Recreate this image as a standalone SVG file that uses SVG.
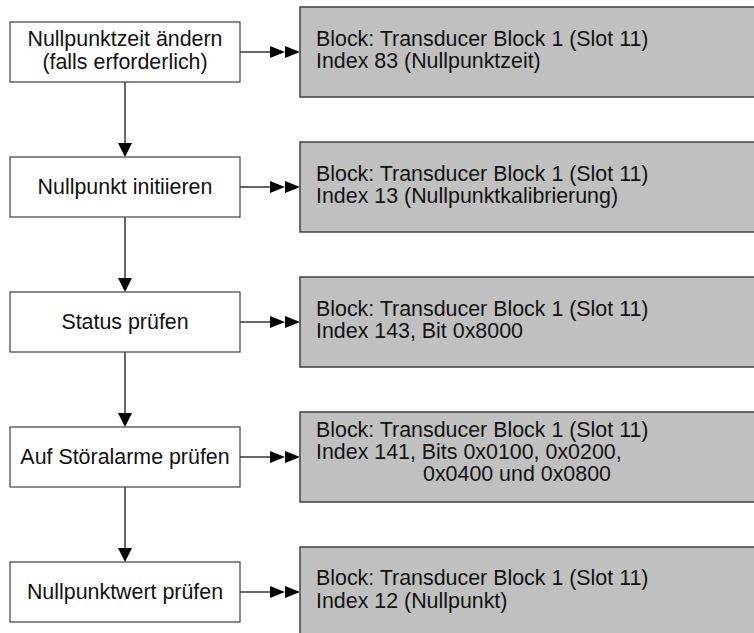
<svg xmlns="http://www.w3.org/2000/svg" width="754" height="633" viewBox="0 0 754 633">
<style>
.step{fill:#ffffff;stroke:#404040;stroke-width:1.2}
.info{fill:#c0c0c0;stroke:#404040;stroke-width:1.5}
text{font-family:"Liberation Sans",Arial,sans-serif;font-size:21.4px;fill:#111}
.c{text-anchor:middle}
.line{stroke:#000;stroke-width:1.2;fill:none}
.head{fill:#000;stroke:none}
</style>
<rect width="754" height="633" fill="#fff"/>
<g id="connectors">
<line class="line" x1="125" y1="82" x2="125" y2="144"/>
<polygon class="head" points="118,143 132,143 125,157"/>
<line class="line" x1="125" y1="217" x2="125" y2="279"/>
<polygon class="head" points="118,278 132,278 125,292"/>
<line class="line" x1="125" y1="352" x2="125" y2="414"/>
<polygon class="head" points="118,413 132,413 125,427"/>
<line class="line" x1="125" y1="487" x2="125" y2="549"/>
<polygon class="head" points="118,548 132,548 125,562"/>
<line class="line" x1="240" y1="52" x2="272" y2="52"/>
<polygon class="head" points="270,46 285,52 270,58"/>
<polygon class="head" points="285,46 300,52 285,58"/>
<line class="line" x1="240" y1="187" x2="272" y2="187"/>
<polygon class="head" points="270,181 285,187 270,193"/>
<polygon class="head" points="285,181 300,187 285,193"/>
<line class="line" x1="240" y1="322" x2="272" y2="322"/>
<polygon class="head" points="270,316 285,322 270,328"/>
<polygon class="head" points="285,316 300,322 285,328"/>
<line class="line" x1="240" y1="457" x2="272" y2="457"/>
<polygon class="head" points="270,451 285,457 270,463"/>
<polygon class="head" points="285,451 300,457 285,463"/>
<line class="line" x1="240" y1="592" x2="272" y2="592"/>
<polygon class="head" points="270,586 285,592 270,598"/>
<polygon class="head" points="285,586 300,592 285,598"/>
</g>
<g id="step1">
<rect class="step" x="10" y="22" width="230" height="60"/>
<text class="c" x="125" y="46">Nullpunktzeit ändern</text>
<text class="c" x="125" y="69">(falls erforderlich)</text>
</g>
<g id="info1">
<rect class="info" x="300" y="7" width="470" height="90"/>
<text x="316" y="46">Block: Transducer Block 1 (Slot 11)</text>
<text x="316" y="68">Index 83 (Nullpunktzeit)</text>
</g>
<g id="step2">
<rect class="step" x="10" y="157" width="230" height="60"/>
<text class="c" x="125" y="194">Nullpunkt initiieren</text>
</g>
<g id="info2">
<rect class="info" x="300" y="142" width="470" height="90"/>
<text x="316" y="181">Block: Transducer Block 1 (Slot 11)</text>
<text x="316" y="203">Index 13 (Nullpunktkalibrierung)</text>
</g>
<g id="step3">
<rect class="step" x="10" y="292" width="230" height="60"/>
<text class="c" x="125" y="329">Status prüfen</text>
</g>
<g id="info3">
<rect class="info" x="300" y="277" width="470" height="90"/>
<text x="316" y="316">Block: Transducer Block 1 (Slot 11)</text>
<text x="316" y="338">Index 143, Bit 0x8000</text>
</g>
<g id="step4">
<rect class="step" x="10" y="427" width="230" height="60"/>
<text class="c" x="125" y="464">Auf Störalarme prüfen</text>
</g>
<g id="info4">
<rect class="info" x="300" y="412" width="470" height="90"/>
<text x="316" y="437">Block: Transducer Block 1 (Slot 11)</text>
<text x="316" y="459">Index 141, Bits 0x0100, 0x0200,</text>
<text x="423" y="481">0x0400 und 0x0800</text>
</g>
<g id="step5">
<rect class="step" x="10" y="562" width="230" height="60"/>
<text class="c" x="125" y="599">Nullpunktwert prüfen</text>
</g>
<g id="info5">
<rect class="info" x="300" y="547" width="470" height="100"/>
<text x="316" y="585">Block: Transducer Block 1 (Slot 11)</text>
<text x="316" y="608">Index 12 (Nullpunkt)</text>
</g>
</svg>
